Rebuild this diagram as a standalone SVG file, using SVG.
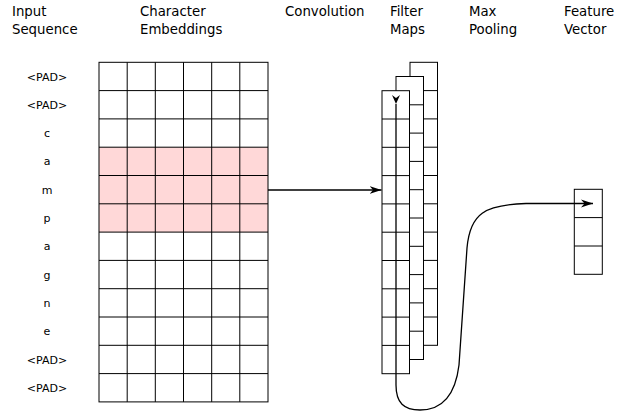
<svg xmlns="http://www.w3.org/2000/svg" width="626" height="412" viewBox="0 0 626 412">
  <style>
    .hdr { font-family: "DejaVu Sans", "Liberation Sans", sans-serif; font-size: 13.3px; fill: #000; }
    .lbl { font-family: "DejaVu Sans", "Liberation Sans", sans-serif; font-size: 11px; fill: #000; text-anchor: middle; }
    .cell { fill: none; stroke: #000; stroke-width: 1; }
    .box { fill: #fff; stroke: #000; stroke-width: 1; }
    .edge { fill: none; stroke: #000; stroke-width: 1.3; }
  </style>
  <defs>
    <marker id="arrow" markerUnits="userSpaceOnUse" viewBox="-12 -5 13 10" refX="0" refY="0" markerWidth="13" markerHeight="10" orient="auto">
      <path d="M0,0 L-12,-4 L-8.5,0 L-12,4 Z" fill="#000"/>
    </marker>
    <marker id="arrowSmall" markerUnits="userSpaceOnUse" viewBox="-10 -5 11 10" refX="0" refY="0" markerWidth="11" markerHeight="10" orient="auto">
      <path d="M0,0 L-9,-4 L-6,0 L-9,4 Z" fill="#000"/>
    </marker>
  </defs>
  <rect width="626" height="412" fill="#fff"/>

  <!-- column headings -->
  <g id="headings">
    <text class="hdr" x="12" y="16">Input<tspan x="12" y="33.5">Sequence</tspan></text>
    <text class="hdr" x="140" y="16">Character<tspan x="140" y="33.5">Embeddings</tspan></text>
    <text class="hdr" x="285" y="16">Convolution</text>
    <text class="hdr" x="390" y="16">Filter<tspan x="390" y="33.5">Maps</tspan></text>
    <text class="hdr" x="469" y="16">Max<tspan x="469" y="33.5">Pooling</tspan></text>
    <text class="hdr" x="564" y="16">Feature<tspan x="564" y="33.5">Vector</tspan></text>
  </g>

  <!-- input tokens, one per matrix row -->
  <g id="input-sequence">
    <text class="lbl" x="47" y="80.5">&lt;PAD&gt;</text>
    <text class="lbl" x="47" y="108.8">&lt;PAD&gt;</text>
    <text class="lbl" x="47" y="137.1">c</text>
    <text class="lbl" x="47" y="165.4">a</text>
    <text class="lbl" x="47" y="193.7">m</text>
    <text class="lbl" x="47" y="222">p</text>
    <text class="lbl" x="47" y="250.3">a</text>
    <text class="lbl" x="47" y="278.6">g</text>
    <text class="lbl" x="47" y="306.9">n</text>
    <text class="lbl" x="47" y="335.2">e</text>
    <text class="lbl" x="47" y="363.5">&lt;PAD&gt;</text>
    <text class="lbl" x="47" y="391.8">&lt;PAD&gt;</text>
  </g>

  <!-- embedding matrix: 12 rows x 6 columns, window rows highlighted -->
  <g id="character-embeddings">
    <rect x="99" y="62.3" width="169" height="339.6" fill="#fff"/>
    <rect x="99" y="147.2" width="169" height="84.9" fill="#ffd8d8"/>
    <rect class="cell" x="99" y="62.3" width="169" height="339.6"/>
    <path class="cell" d="M127.2,62.3V401.9M155.3,62.3V401.9M183.5,62.3V401.9M211.7,62.3V401.9M239.8,62.3V401.9
      M99,90.6H268M99,118.9H268M99,147.2H268M99,175.5H268M99,203.8H268M99,232.1H268
      M99,260.4H268M99,288.7H268M99,317H268M99,345.3H268M99,373.6H268"/>
  </g>

  <!-- stacked filter maps, back to front -->
  <g id="filter-map-3">
    <rect class="box" x="410" y="62.3" width="27.5" height="283"/>
    <path class="cell" d="M410,90.6H437.5M410,118.9H437.5M410,147.2H437.5M410,175.5H437.5M410,203.8H437.5M410,232.1H437.5M410,260.4H437.5M410,288.7H437.5M410,317H437.5"/>
  </g>
  <g id="filter-map-2">
    <rect class="box" x="396" y="76.5" width="27.5" height="283"/>
    <path class="cell" d="M396,104.8H423.5M396,133.1H423.5M396,161.4H423.5M396,189.7H423.5M396,218H423.5M396,246.3H423.5M396,274.6H423.5M396,302.9H423.5M396,331.2H423.5"/>
  </g>
  <g id="filter-map-1">
    <rect class="box" x="382" y="90.7" width="27.5" height="283"/>
    <path class="cell" d="M382,119H409.5M382,147.3H409.5M382,175.6H409.5M382,203.9H409.5M382,232.2H409.5M382,260.5H409.5M382,288.8H409.5M382,317.1H409.5M382,345.4H409.5"/>
  </g>

  <!-- pooled output -->
  <g id="feature-vector">
    <rect class="box" x="574.3" y="189.3" width="28" height="85"/>
    <path class="cell" d="M574.3,217.6H602.3M574.3,246H602.3"/>
  </g>

  <!-- connectors -->
  <g id="connectors">
    <path class="edge" d="M268,190H381.5" marker-end="url(#arrow)"/>
    <path class="edge" d="M396,104V385C396,403 404,410 420,410C440,410 455,398 459,365L467,248C470,213 485,205 526,203.5H593" marker-start="url(#arrowSmall)" marker-end="url(#arrow)"/>
  </g>
</svg>
